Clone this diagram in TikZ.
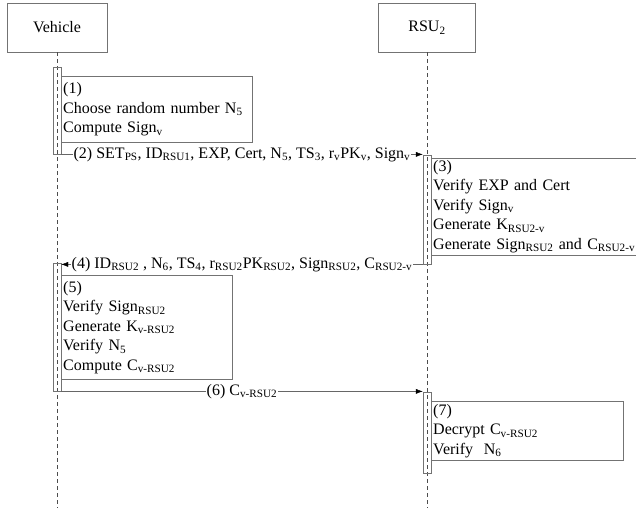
\documentclass[tikz,border=0pt]{standalone}
\usepackage{fontspec}
\setmainfont{Liberation Serif}
\usetikzlibrary{arrows.meta,positioning}
\newcommand{\sbs}[1]{\textsubscript{#1}}

\begin{document}
\begin{tikzpicture}[x=1pt,y=-1pt,font=\fontsize{16}{19.5}\selectfont,
  head/.style={draw=black!55,minimum width=100pt,minimum height=49pt},
  life/.style={draw=black!70,dash pattern=on 4pt off 3pt},
  actbar/.style={draw=black!55,minimum width=8pt,inner sep=0pt,anchor=north},
  stepbox/.style={draw=black!55,anchor=north west,align=left,inner sep=2pt},
  msg/.style={draw=black!60,-{Latex[length=7pt,width=5pt,black]}},
  lbl/.style={fill=white,inner sep=1pt}]
  \useasboundingbox (0,0) rectangle (636,510);
  \clip (0,0) rectangle (636,510);

  \node[head] (veh) at (57,27.5) {Vehicle};
  \node[head,minimum width=97pt] (rsu) at (427,27.5) {RSU\sbs{2}};
  \coordinate (bottom) at (0,508);
  \draw[life] (veh) -- (veh |- bottom);
  \draw[life] (rsu) -- (rsu |- bottom);

  % activation bars
  \node[actbar,minimum height=87pt] (b1) at (57,67) {};
  \node[actbar,minimum height=109pt] (b2) at (427,155) {};
  \node[actbar,minimum height=128pt] (b3) at (57,263) {};
  \node[actbar,minimum height=81pt] (b4) at (427,392) {};

  % steps
  \node[stepbox,text width=187pt,minimum height=66pt] (s1) at (61,76)
    {(1)\\Choose random number N\sbs{5}\\Compute Sign\sbs{v}};
  \node[stepbox,text width=220pt,minimum height=94pt] (s3) at (431,158)
    {(3)\\Verify EXP and Cert\\Verify Sign\sbs{v}\\Generate K\sbs{RSU2-v}\\Generate Sign\sbs{RSU2} and C\sbs{RSU2-v}};
  \node[stepbox,text width=167pt,minimum height=104pt] (s5) at (61,275)
    {(5)\\Verify Sign\sbs{RSU2}\\Generate K\sbs{v-RSU2}\\Verify N\sbs{5}\\Compute C\sbs{v-RSU2}};
  \node[stepbox,text width=188pt,minimum height=59pt] (s7) at (431,401)
    {(7)\\Decrypt C\sbs{v-RSU2}\\Verify\ \ N\sbs{6}};

  % messages
  \draw[msg] (b1.south east) -- node[lbl] {(2) SET\sbs{PS}, ID\sbs{RSU1}, EXP, Cert, N\sbs{5}, TS\sbs{3}, r\sbs{v}PK\sbs{v}, Sign\sbs{v}} (b1.south east -| b2.west);
  \draw[msg] (b2.south west) -- node[lbl] {(4) ID\sbs{RSU2} , N\sbs{6}, TS\sbs{4}, r\sbs{RSU2}PK\sbs{RSU2}, Sign\sbs{RSU2}, C\sbs{RSU2-v}} (b2.south west -| b3.east);
  \draw[msg] (b3.south east) -- node[lbl] {(6) C\sbs{v-RSU2}} (b3.south east -| b4.west);
\end{tikzpicture}
\end{document}
